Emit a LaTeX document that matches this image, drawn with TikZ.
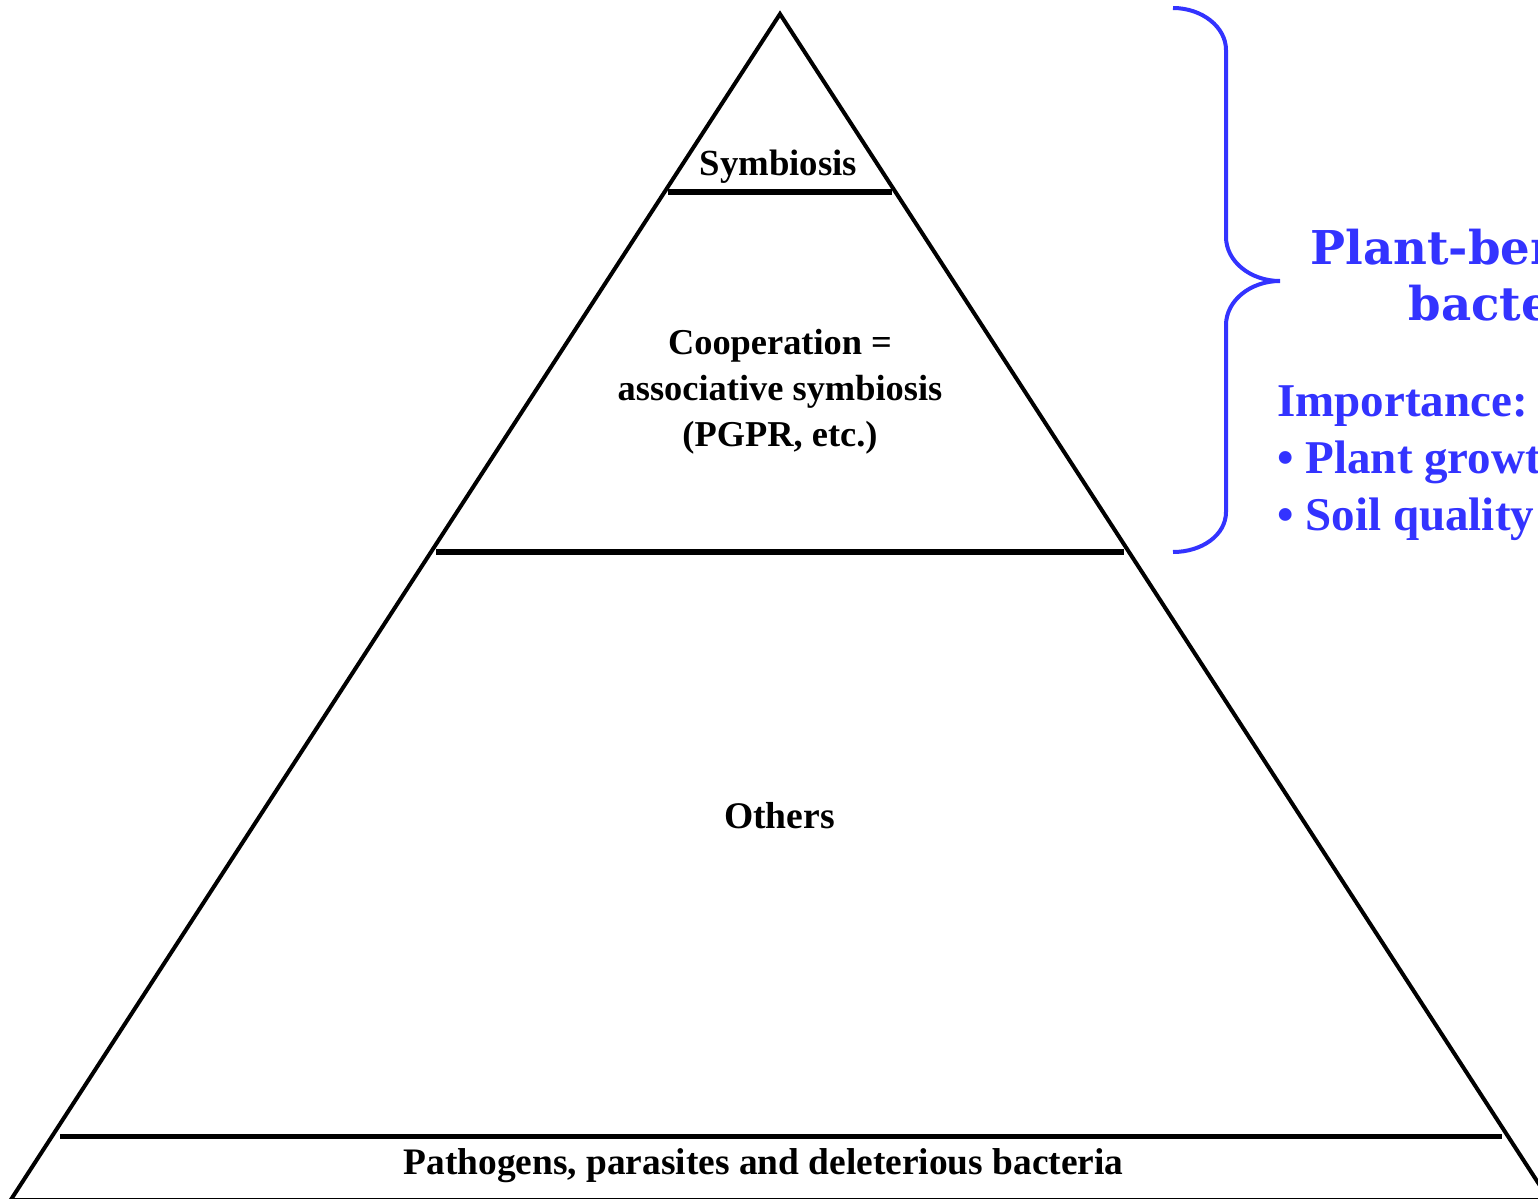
\documentclass[tikz,border=0pt]{standalone}
\usepackage{fontspec}
\setmainfont{Liberation Serif}
\newfontfamily\headfont{DejaVu Serif}
\usetikzlibrary{positioning}
\definecolor{benblue}{RGB}{51,51,255}

\begin{document}
\begin{tikzpicture}[x=0.5pt,y=-0.5pt,
    side/.style={line width=2pt, line join=miter},
    level/.style={line width=2.7pt},
    label/.style={inner sep=0pt, align=center, anchor=base},
    note/.style={text=benblue, inner sep=0pt, anchor=base west}]
\useasboundingbox (0,0) rectangle (1538,1199);
% pyramid outline
\coordinate (apex) at (780,14);
\coordinate (baseL) at (10.7,1200);
\coordinate (baseR) at (1549.3,1200);
\draw[side] (apex) -- (baseL) -- (baseR) -- cycle;
% level lines
\draw[level] (668,192) -- (891.7,192);
\draw[level] (436,552) -- (1124,552);
\draw[level] (60,1136.3) -- (1501.7,1136.3);
% level labels
\node[label, font=\bfseries\fontsize{18.4}{22}\selectfont] (symb) at (778.5,175) {Symbiosis};
\node[label, font=\bfseries\fontsize{18.2}{22.8}\selectfont] (coop) at (780,446) {Cooperation =\\associative symbiosis\\(PGPR, etc.)};
\node[label, font=\bfseries\fontsize{18.8}{22}\selectfont] (others) at (779.5,828) {Others};
\node[label, font=\bfseries\fontsize{18.7}{22}\selectfont] (patho) at (763.5,1174) {Pathogens, parasites and deleterious bacteria};
% brace
\draw[benblue, line width=2pt] (1173,8) .. controls (1202,8) and (1226,27) .. (1226,50)
    -- (1226,237) .. controls (1226,261) and (1250,281) .. (1280,281)
    .. controls (1250,281) and (1226,301) .. (1226,325)
    -- (1226,512) .. controls (1226,535) and (1202,552) .. (1173,552);
% side notes
\node[note, align=center, font=\headfont\bfseries\fontsize{23.3}{28}\selectfont] (plant) at (1310,320) {Plant-beneficial\\bacteria};
\node[note, align=left, font=\bfseries\fontsize{23.5}{28.5}\selectfont] (imp) at (1277,530) {Importance:\\• Plant growth\\• Soil quality};
\end{tikzpicture}
\end{document}
